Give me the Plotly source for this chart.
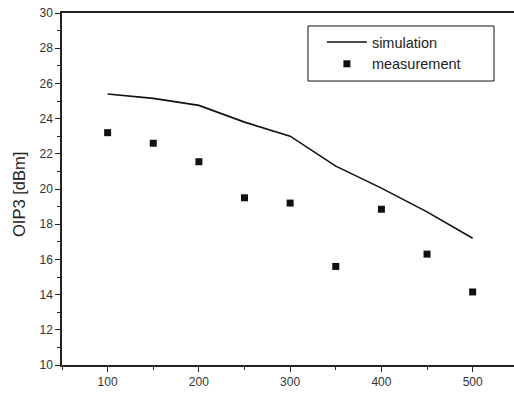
import plotly.graph_objects as go

freq = [100, 150, 200, 250, 300, 350, 400, 450, 500]
simulation = [25.4, 25.15, 24.75, 23.8, 23.0, 21.3, 20.05, 18.7, 17.2]
measurement = [23.2, 22.6, 21.55, 19.5, 19.2, 15.6, 18.85, 16.3, 14.15]
y_ticks = [10, 12, 14, 16, 18, 20, 22, 24, 26, 28, 30]
x_ticks = [100, 200, 300, 400, 500]

fig = go.Figure()
fig.add_trace(go.Scatter(x=freq, y=simulation, mode="lines", name="simulation",
                         line=dict(color="#111111", width=1.6)))
fig.add_trace(go.Scatter(x=freq, y=measurement, mode="markers", name="measurement",
                         marker=dict(symbol="square", size=7, color="#111111")))

# legend frame
fig.add_shape(type="rect", xref="paper", yref="paper",
              x0=0.5442, x1=0.9558, y0=0.8068, y1=0.9631,
              line=dict(color="#111111", width=1), fillcolor="white", layer="below")

fig.add_annotation(text="OIP3 [dBm]", xref="paper", yref="paper",
                   x=-0.0951, y=0.483, textangle=-90, showarrow=False,
                   xanchor="center", yanchor="middle",
                   font=dict(size=16.5, color="#222222"))

fig.update_layout(
    width=514, height=393,
    margin=dict(l=62, r=0, t=13, b=28),
    paper_bgcolor="white", plot_bgcolor="white",
    font=dict(family="Arial, Liberation Sans, sans-serif", size=12, color="#333333"),
    showlegend=True,
    legend=dict(x=0.575, y=0.963, xanchor="left", yanchor="top",
                borderwidth=0, bgcolor="rgba(0,0,0,0)",
                font=dict(size=14.5, color="#222222"), tracegroupgap=0,
                itemwidth=40),
    xaxis=dict(range=[50, 545.3], tickvals=x_ticks, showgrid=False, zeroline=False,
               showline=True, linecolor="#222222", linewidth=1.5, mirror=True,
               ticks="outside", ticklen=5, tickcolor="#222222",
               minor=dict(tickvals=[50, 150, 250, 350, 450], ticks="outside", ticklen=3, tickcolor="#222222"),
               tickfont=dict(size=12, color="#333333")),
    yaxis=dict(range=[10, 30], tickvals=y_ticks, showgrid=False, zeroline=False,
               showline=True, linecolor="#222222", linewidth=1.5,
               ticks="outside", ticklen=5, tickcolor="#222222",
               minor=dict(dtick=1, ticks="outside", ticklen=3, tickcolor="#222222"),
               tickfont=dict(size=12, color="#333333")),
)

fig.write_html("out.html")
